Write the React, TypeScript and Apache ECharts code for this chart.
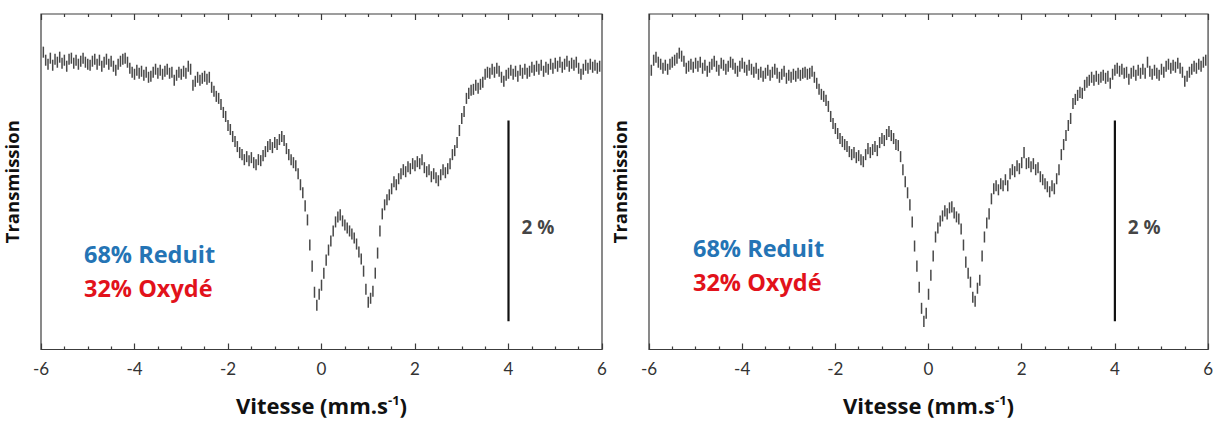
import { useEffect, useRef } from "react";
import * as echarts from "echarts";

// Velocity channels (mm/s): first channel and step
const V_START = -5.95;
const V_STEP = 0.05;

// Relative transmission (%) — left spectrum
const leftSpectrum = [
  100.11, 100.03, 99.99, 100.05, 99.98, 100.04, 100.01, 100.06, 100.0, 100.03,
  99.97, 100.04, 100.05, 100.0, 100.03, 99.99, 100.02, 100.05, 100.01, 99.99,
  99.98, 100.02, 100.04, 99.99, 100.03, 99.97, 100.01, 100.04, 99.99, 100.02,
  99.97, 99.93, 99.99, 100.02, 100.04, 100.05, 100.01, 99.95, 99.91, 99.89,
  99.93, 99.9, 99.92, 99.88, 99.91, 99.86, 99.87, 99.91, 99.94, 99.9,
  99.93, 99.89, 99.92, 99.94, 99.9, 99.91, 99.83, 99.88, 99.91, 99.89,
  99.92, 99.9, 99.97, 99.94, 99.78, 99.82, 99.86, 99.83, 99.85, 99.87,
  99.84, 99.86, 99.76, 99.72, 99.67, 99.65, 99.59, 99.51, 99.47, 99.38,
  99.34, 99.27, 99.22, 99.17, 99.11, 99.09, 99.04, 99.07, 99.03, 99.06,
  99.01, 98.99, 99.04, 99.03, 99.08, 99.12, 99.17, 99.19, 99.16, 99.21,
  99.19, 99.24, 99.27, 99.23, 99.15, 99.09, 99.04, 99.01, 98.98, 98.9,
  98.79, 98.71, 98.58, 98.44, 98.19, 97.98, 97.72, 97.59, 97.7, 97.79,
  97.91, 98.04, 98.14, 98.23, 98.33, 98.42, 98.47, 98.49, 98.43, 98.39,
  98.36, 98.33, 98.3, 98.26, 98.2, 98.12, 98.05, 97.93, 97.75, 97.62,
  97.66, 97.73, 97.91, 98.11, 98.33, 98.5, 98.59, 98.64, 98.69, 98.75,
  98.82, 98.79, 98.85, 98.9, 98.94, 98.92, 98.97, 98.95, 99.0, 98.98,
  99.02, 99.0, 99.04, 98.96, 98.92, 98.94, 98.87, 98.9, 98.86, 98.83,
  98.89, 98.94, 98.91, 98.95, 99.0, 99.09, 99.13, 99.21, 99.33, 99.45,
  99.52, 99.65, 99.7, 99.73, 99.74, 99.78, 99.75, 99.79, 99.81, 99.89,
  99.91, 99.9, 99.94, 99.91, 99.95, 99.92, 99.86, 99.82, 99.88, 99.9,
  99.93, 99.89, 99.92, 99.87, 99.93, 99.9, 99.94, 99.9, 99.92, 99.96,
  99.93, 99.97, 99.94, 99.98, 99.92, 99.96, 99.94, 99.99, 99.95, 100.0,
  99.97, 100.01, 99.96, 99.99, 100.02, 99.97, 100.0, 99.98, 100.01, 99.95,
  99.89, 99.94, 99.98, 99.95, 99.99, 99.96, 99.98, 99.95, 99.97,
];

// Relative transmission (%) — right spectrum
const rightSpectrum = [
  99.93, 100.03, 100.06, 100.01, 99.99, 99.95, 99.98, 99.94, 99.99, 100.01,
  100.03, 100.05, 100.1, 100.07, 100.02, 99.95, 99.97, 99.99, 99.96, 100.0,
  99.97, 100.01, 99.95, 99.98, 99.92, 99.96, 99.99, 100.02, 99.97, 99.93,
  100.0, 99.98, 99.94, 99.97, 100.01, 99.99, 99.95, 99.92, 99.97, 100.0,
  99.96, 99.93, 99.98, 99.94, 99.91, 99.95, 99.89, 99.91, 99.87, 99.9,
  99.93, 99.88, 99.91, 99.94, 99.9, 99.86, 99.89, 99.92, 99.85, 99.88,
  99.86, 99.89, 99.87, 99.9, 99.88, 99.9, 99.91, 99.89, 99.9, 99.92,
  99.86, 99.8, 99.74, 99.69, 99.67, 99.63, 99.57, 99.47, 99.4, 99.35,
  99.3, 99.25, 99.22, 99.19, 99.17, 99.12, 99.09, 99.11, 99.06, 99.08,
  99.04, 99.02, 99.09, 99.15, 99.11, 99.14, 99.17, 99.13, 99.21, 99.25,
  99.23, 99.29, 99.32, 99.28, 99.25, 99.19, 99.18, 99.07, 98.94, 98.82,
  98.71, 98.59, 98.42, 98.18, 97.98, 97.77, 97.56, 97.43, 97.51, 97.7,
  97.89, 98.08, 98.27, 98.36, 98.43, 98.48, 98.53, 98.5, 98.56, 98.57,
  98.51, 98.47, 98.45, 98.35, 98.19, 98.02, 97.91, 97.82, 97.67, 97.63,
  97.76, 97.84, 98.08, 98.27, 98.41, 98.5, 98.65, 98.75, 98.78, 98.74,
  98.8, 98.78, 98.84, 98.78, 98.9, 98.94, 98.92, 98.98, 98.95, 99.01,
  99.11, 99.0, 99.01, 98.97, 99.0, 98.94, 98.96, 98.87, 98.84, 98.8,
  98.77, 98.72, 98.78, 98.75, 98.85, 98.94, 99.09, 99.19, 99.28, 99.38,
  99.45, 99.6, 99.64, 99.68, 99.71, 99.7, 99.78, 99.81, 99.83, 99.86,
  99.83, 99.87, 99.84, 99.86, 99.88, 99.85, 99.87, 99.8, 99.89, 99.93,
  99.95, 99.92, 99.94, 99.9, 99.91, 99.84, 99.9, 99.92, 99.88, 99.93,
  99.9, 99.94, 99.9, 100.01, 99.92, 99.89, 99.93, 99.9, 99.88, 99.94,
  99.91, 99.97, 99.99, 99.95, 99.98, 99.96, 100.0, 99.95, 99.91, 99.82,
  99.87, 99.91, 99.94, 99.97, 99.95, 99.99, 99.97, 100.01, 100.03,
];

// Half-length of each error bar (%)
const ERROR = 0.055;

// 2 % scale bar (velocity position, lower and upper transmission)
const SCALE_X = [4, 4];
const SCALE_Y = [97.43, 99.43];
const SCALE_LABEL = ["2 %"];
const SCALE_LABEL_POS = [4.63, 98.37];

const X_MIN = -6;
const X_MAX = 6;
const X_INTERVAL = 2;
const Y_MIN = 97.15;
const Y_MAX = 100.49;

const FRACTIONS = ["68% Reduit", "32% Oxydé"];

const TICK_COLOR = "#3a3a3a";

function toBars(values: number[]) {
  return values.map((v, i) => {
    const vel = +(V_START + i * V_STEP).toFixed(2);
    return [vel, v - ERROR, v + ERROR];
  });
}

function renderErrorBar(_params: any, api: any) {
  const x = api.value(0);
  const p1 = api.coord([x, api.value(1)]);
  const p2 = api.coord([x, api.value(2)]);
  return {
    type: "line",
    shape: { x1: p1[0], y1: p1[1], x2: p2[0], y2: p2[1] },
    style: { stroke: "#484848", lineWidth: 1.5 },
  };
}

export default function App() {
  const ref = useRef<HTMLDivElement>(null);

  useEffect(() => {
    document.body.style.margin = "0";
    if (!ref.current) return;
    const chart = echarts.init(ref.current, undefined, { renderer: "svg" });

    const grids = [
      { left: 41, top: 14, width: 561, height: 349 },
      { left: 649, top: 14, width: 561, height: 349 },
    ];

    const xAxes: any[] = [];
    const yAxes: any[] = [];
    grids.forEach((_, g) => {
      const common = {
        type: "value",
        gridIndex: g,
        min: X_MIN,
        max: X_MAX,
        interval: X_INTERVAL,
        axisLine: { show: false },
        axisTick: { inside: true, length: 6, lineStyle: { color: TICK_COLOR, width: 1.2 } },
        minorTick: { show: true, splitNumber: 4, length: 3, lineStyle: { color: TICK_COLOR, width: 1.2 } },
        splitLine: { show: false },
        minorSplitLine: { show: false },
      };
      xAxes.push({
        ...common,
        position: "bottom",
        axisLabel: {
          fontSize: 17,
          color: "#333",
          fontFamily: "Lato",
          margin: 10,
        },
        name: "{a|Vitesse (mm.s}{b|-1}{a|)}",
        nameLocation: "middle",
        nameGap: 44,
        nameTextStyle: {
          rich: {
            a: { fontSize: 22, fontWeight: "bold", fontFamily: "Open Sans", color: "#111" },
            b: { fontSize: 13, fontWeight: "bold", fontFamily: "Open Sans", color: "#111", verticalAlign: "top", padding: [0, 0, 10, 0] },
          },
        },
      });
      xAxes.push({
        ...common,
        position: "top",
        axisLabel: { show: false },
      });
      yAxes.push({
        type: "value",
        gridIndex: g,
        min: Y_MIN,
        max: Y_MAX,
        axisLine: { show: false },
        axisTick: { show: false },
        axisLabel: { show: false },
        splitLine: { show: false },
        name: "Transmission",
        nameLocation: "middle",
        nameGap: 21,
        nameTextStyle: { fontSize: 18.5, fontWeight: "bold", fontFamily: "Open Sans", color: "#111", lineHeight: 18 },
      });
    });

    const spectra = [leftSpectrum, rightSpectrum];
    const series: any[] = [];
    spectra.forEach((spec, g) => {
      series.push({
        type: "custom",
        xAxisIndex: g * 2,
        yAxisIndex: g,
        renderItem: renderErrorBar,
        data: toBars(spec),
        encode: { x: 0, y: [1, 2] },
        clip: false,
      });
      series.push({
        type: "line",
        xAxisIndex: g * 2,
        yAxisIndex: g,
        symbol: "none",
        lineStyle: { color: "#111", width: 2.2 },
        data: SCALE_X.map((x, i) => [x, SCALE_Y[i]]),
      });
      series.push({
        type: "scatter",
        xAxisIndex: g * 2,
        yAxisIndex: g,
        symbol: "circle",
        symbolSize: 2,
        itemStyle: { color: "rgba(0,0,0,0)" },
        label: {
          show: true,
          position: "inside",
          formatter: SCALE_LABEL[0],
          fontSize: 19,
          fontWeight: "bold",
          fontFamily: "Open Sans",
          color: "#111",
        },
        data: [SCALE_LABEL_POS],
      });
    });

    const annot = [
      { x: 84, y1: 254, y2: 288 },
      { x: 693, y1: 248, y2: 282 },
    ];
    const graphic: any[] = [];
    annot.forEach((a) => {
      graphic.push({
        type: "text",
        x: a.x,
        y: a.y1,
        style: {
          text: FRACTIONS[0],
          fill: "#2474b5",
          font: 'bold 23.5px "Open Sans"',
          verticalAlign: "middle",
        },
      });
      graphic.push({
        type: "text",
        x: a.x,
        y: a.y2,
        style: {
          text: FRACTIONS[1],
          fill: "#e2121b",
          font: 'bold 23.5px "Open Sans"',
          verticalAlign: "middle",
        },
      });
    });

    chart.setOption({
      animation: false,
      backgroundColor: "#fff",
      grid: grids.map((g) => ({
        ...g,
        show: true,
        borderColor: "#3c3c3c",
        borderWidth: 1.2,
        backgroundColor: "transparent",
      })),
      xAxis: xAxes,
      yAxis: yAxes,
      series,
      graphic,
    });

    return () => chart.dispose();
  }, []);

  return <div ref={ref} style={{ width: 1216, height: 421 }} />;
}
